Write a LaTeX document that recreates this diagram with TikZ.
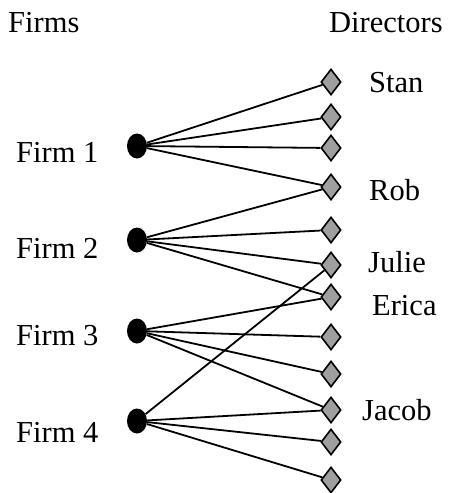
\documentclass[tikz,border=0pt]{standalone}
\usepackage{fontspec}
\setmainfont{Liberation Serif}
\usepackage{tikz}
\usetikzlibrary{shapes.geometric,positioning}

\begin{document}
\begin{tikzpicture}[
    x=1pt, y=-1pt,
    every node/.style={font=\fontsize{30.5}{36}\selectfont},
    firm/.style={ellipse, fill=black, minimum width=20pt, minimum height=25pt, inner sep=0pt},
    director/.style={diamond, draw=black, line width=1.6pt, fill=gray!75, minimum width=20pt, minimum height=26pt, inner sep=0pt},
    lbl/.style={anchor=base west, inner sep=0pt},
    tie/.style={line width=1.8pt},
]
    \useasboundingbox (0,0) rectangle (449,493);

    % Column headings
    \node[lbl] (firms_hd) at (8,32) {Firms};
    \node[lbl] (directors_hd) at (329,32) {Directors};

    % Firms
    \node[firm] (firm1) at (137,146) {};
    \node[firm] (firm2) at (137,240) {};
    \node[firm] (firm3) at (137,331) {};
    \node[firm] (firm4) at (137,421) {};

    \node[lbl] (firm1_lbl) at (16,162) {Firm 1};
    \node[lbl] (firm2_lbl) at (16,258) {Firm 2};
    \node[lbl] (firm3_lbl) at (16,345) {Firm 3};
    \node[lbl] (firm4_lbl) at (16,442) {Firm 4};

    % Directors
    \node[director] (dir1) at (331,82) {};
    \node[director] (dir2) at (331,117) {};
    \node[director] (dir3) at (331,148) {};
    \node[director] (dir4) at (331,187) {};
    \node[director] (dir5) at (331,230) {};
    \node[director] (dir6) at (331,265) {};
    \node[director] (dir7) at (331,297) {};
    \node[director] (dir8) at (331,337) {};
    \node[director] (dir9) at (331,374) {};
    \node[director] (dir10) at (331,410) {};
    \node[director] (dir11) at (331,442) {};
    \node[director] (dir12) at (331,480) {};

    \node[lbl] (stan) at (369,92) {Stan};
    \node[lbl] (rob) at (369,200) {Rob};
    \node[lbl] (julie) at (368,272) {Julie};
    \node[lbl] (erica) at (372,315) {Erica};
    \node[lbl] (jacob) at (362,420) {Jacob};

    % Board seats
    \draw[tie] (firm1) -- (dir1);
    \draw[tie] (firm1) -- (dir2);
    \draw[tie] (firm1) -- (dir3);
    \draw[tie] (firm1) -- (dir4);

    \draw[tie] (firm2) -- (dir4);
    \draw[tie] (firm2) -- (dir5);
    \draw[tie] (firm2) -- (dir6);
    \draw[tie] (firm2) -- (dir7);

    \draw[tie] (firm3) -- (dir7);
    \draw[tie] (firm3) -- (dir8);
    \draw[tie] (firm3) -- (dir9);
    \draw[tie] (firm3) -- (dir10);

    \draw[tie] (firm4) -- (dir6);
    \draw[tie] (firm4) -- (dir10);
    \draw[tie] (firm4) -- (dir11);
    \draw[tie] (firm4) -- (dir12);

\end{tikzpicture}
\end{document}
